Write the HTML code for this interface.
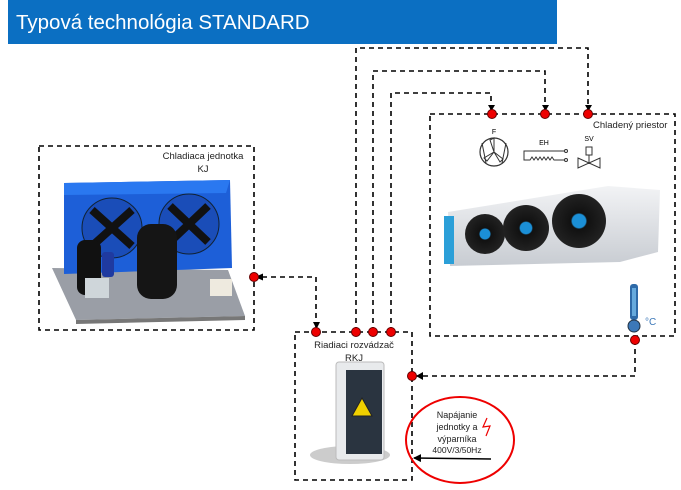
<!DOCTYPE html>
<html><head><meta charset="utf-8"><style>
body{margin:0;background:#fff;width:681px;height:490px;overflow:hidden}
svg{display:block}
text{font-family:"Liberation Sans",sans-serif}
</style></head><body>
<svg width="681" height="490" viewBox="0 0 681 490" xmlns="http://www.w3.org/2000/svg">
<defs>
<marker id="ah" markerWidth="8" markerHeight="8" refX="7" refY="4" orient="auto" markerUnits="userSpaceOnUse"><path d="M0,0 L8,4 L0,8z" fill="#000"/></marker>
<radialGradient id="fb" cx="0.5" cy="0.5" r="0.5"><stop offset="0.25" stop-color="#1b8fd6"/><stop offset="0.3" stop-color="#111"/><stop offset="1" stop-color="#222"/></radialGradient>
<linearGradient id="ev" x1="0" y1="0" x2="0" y2="1"><stop offset="0" stop-color="#f2f3f5"/><stop offset="1" stop-color="#c8ccd2"/></linearGradient>
</defs>
<rect x="8" y="0" width="549" height="44" fill="#0b6fc2"/>
<text x="16" y="29" font-size="20.5" fill="#fff">Typová technológia STANDARD</text>

<g fill="none" stroke="#000" stroke-width="1.6" stroke-dasharray="5,4">
<rect x="39" y="146" width="215" height="184"/>
<rect x="430" y="114" width="245" height="222"/>
<rect x="295" y="332" width="117" height="148"/>
<path d="M356,332 V48 H588 V112"/>
<path d="M373,332 V71 H545 V112"/>
<path d="M391,332 V93 H491 V112"/>
<path d="M262,277 H316 V330"/>
<path d="M635,340 V376 H414"/>
</g>
<g fill="#000">
<path d="M488,105 L495,105 L491.5,111z"/><path d="M542,105 L549,105 L545.5,111z"/><path d="M585,105 L592,105 L588.5,111z"/><path d="M313,322 L320,322 L316.5,329z"/><path d="M416,376 L423,372 L423,380z"/><path d="M255,277 L263,273.5 L263,280.5z"/>
</g>
<g fill="#e00" stroke="#600" stroke-width="1">
<circle cx="492" cy="114" r="4.5"/><circle cx="545" cy="114" r="4.5"/><circle cx="588" cy="114" r="4.5"/>
<circle cx="316" cy="332" r="4.5"/><circle cx="356" cy="332" r="4.5"/><circle cx="373" cy="332" r="4.5"/><circle cx="391" cy="332" r="4.5"/>
<circle cx="412" cy="376" r="4.5"/><circle cx="635" cy="340" r="4.5"/><circle cx="254" cy="277" r="4.5"/>
</g>
<text x="593" y="128" font-size="9.5" fill="#222">Chladený priestor</text>
<text x="203" y="159" font-size="9.5" fill="#222" text-anchor="middle">Chladiaca jednotka</text>
<text x="203" y="172" font-size="9.5" fill="#222" text-anchor="middle">KJ</text>
<text x="354" y="348" font-size="9.5" fill="#222" text-anchor="middle">Riadiaci rozvádzač</text>
<text x="354" y="361" font-size="9.5" fill="#222" text-anchor="middle">RKJ</text>

<text x="494" y="134" font-size="7" text-anchor="middle">F</text>
<circle cx="494" cy="152" r="14" fill="none" stroke="#333" stroke-width="1.2"/>
<path d="M494,152 L490,140 L494,138z M494,152 L484,158 L487,161z M494,152 L503,159 L500,162z" fill="none" stroke="#333"/>
<path d="M486,163 L482,143 M502,163 L506,143" stroke="#333"/>
<text x="544" y="145" font-size="7" text-anchor="middle">EH</text>
<path d="M565,151 H524 V160 H530 l2,-3 2,3 2,-3 2,3 2,-3 2,3 2,-3 2,3 2,-3 2,3 2,-3 2,3 H565" fill="none" stroke="#333"/>
<circle cx="566" cy="151" r="1.5" fill="none" stroke="#333"/><circle cx="566" cy="160" r="1.5" fill="none" stroke="#333"/>
<text x="589" y="141" font-size="7" text-anchor="middle">SV</text>
<rect x="586" y="147" width="6" height="8" fill="none" stroke="#333"/>
<path d="M589,155 V164 M578,158 L600,168 V158 L578,168z" fill="none" stroke="#333"/>

<path d="M448,212 L608,186 L660,190 L658,252 L620,262 L450,266z" fill="url(#ev)"/>
<rect x="444" y="216" width="10" height="48" fill="#2b9fd8"/>
<circle cx="485" cy="234" r="20" fill="url(#fb)"/>
<circle cx="526" cy="228" r="23" fill="url(#fb)"/>
<circle cx="579" cy="221" r="27" fill="url(#fb)"/>
<rect x="630" y="284" width="8" height="36" rx="3" fill="#2e6aa8"/>
<rect x="632" y="288" width="4" height="28" fill="#6ad"/>
<circle cx="634" cy="326" r="6" fill="#3c78b8" stroke="#234" />
<text x="645" y="325" font-size="10" fill="#3c78b8">°C</text>

<path d="M52,268 L228,270 L245,316 L76,320z" fill="#9a9ea6"/>
<path d="M76,320 L245,316 L245,320 L76,324z" fill="#777"/>
<path d="M64,183 L230,180 L232,268 L64,274z" fill="#1d5fd8"/>
<path d="M64,183 L230,180 L226,193 L64,195z" fill="#2a78f0"/>
<circle cx="112" cy="228" r="30" fill="#1a4db8" stroke="#123" stroke-width="1"/>
<circle cx="189" cy="224" r="30" fill="#1a4db8" stroke="#123" stroke-width="1"/>
<path d="M92,210 L132,246 M132,210 L92,246 M170,206 L208,242 M208,206 L170,242" stroke="#111" stroke-width="8"/>
<rect x="77" y="240" width="24" height="55" rx="8" fill="#111"/>
<rect x="102" y="252" width="12" height="25" rx="3" fill="#1f3aa0"/>
<rect x="137" y="224" width="40" height="75" rx="14" fill="#151515"/>
<rect x="85" y="278" width="24" height="20" fill="#cfd6da"/>
<rect x="210" y="279" width="22" height="17" fill="#eeeadf"/>

<ellipse cx="350" cy="455" rx="40" ry="9" fill="#ccc"/>
<rect x="336" y="362" width="48" height="98" rx="3" fill="#e8eaec" stroke="#bbb"/>
<rect x="346" y="370" width="36" height="84" fill="#2a3440"/>
<path d="M362,398 L372,416 L352,416z" fill="#f0d000" stroke="#222"/>

<ellipse cx="460" cy="440" rx="54" ry="43" fill="none" stroke="#e00" stroke-width="2"/>
<text x="457" y="418" font-size="9" text-anchor="middle" fill="#222">Napájanie</text>
<text x="457" y="430" font-size="9" text-anchor="middle" fill="#222">jednotky a</text>
<text x="457" y="442" font-size="9" text-anchor="middle" fill="#222">výparníka</text>
<text x="457" y="453" font-size="8.5" text-anchor="middle" fill="#222">400V/3/50Hz</text>
<path d="M487,418 L483,427 L490,426 L486,436" fill="none" stroke="#e00" stroke-width="1.2"/>
<line x1="491" y1="459" x2="414" y2="458" stroke="#000" stroke-width="1.5" marker-end="url(#ah)"/>
</svg>
</body></html>
